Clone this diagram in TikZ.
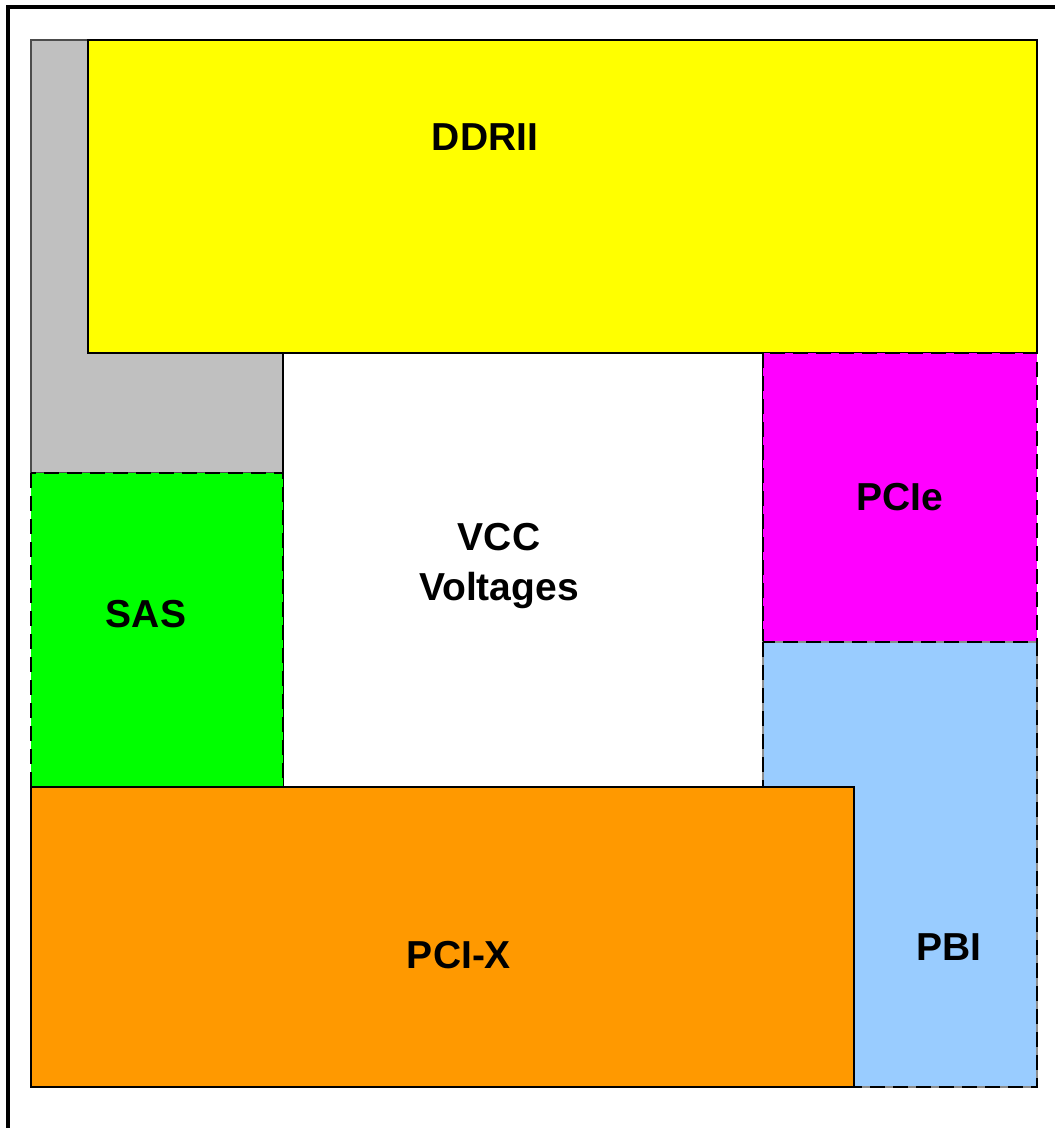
\documentclass[tikz,border=0pt]{standalone}
\usepackage{fontspec}
\setmainfont{Liberation Sans}
\definecolor{cgray}{HTML}{C0C0C0}
\definecolor{cyel}{HTML}{FFFF00}
\definecolor{cgreen}{HTML}{00FF00}
\definecolor{cmag}{HTML}{FF00FF}
\definecolor{cblue}{HTML}{99CCFF}
\definecolor{corange}{HTML}{FF9900}
\begin{document}
\begin{tikzpicture}[x=1pt,y=-1pt,
  solidbox/.style={draw=black,line width=2.2pt},
  dashbox/.style={draw=black,line width=2.6pt,dash pattern=on 15pt off 8pt},
  lbl/.style={font=\fontsize{39}{50}\selectfont\bfseries,align=center,inner sep=0pt}]
\useasboundingbox (0,0) rectangle (1055,1128);
\fill[white] (0,0) rectangle (1055,1128);
\begin{scope}
\clip (0,0) rectangle (1055,1128);
\draw[line width=3.2pt] (8,7) rectangle (1070,1140);
\end{scope}
% gray L region
\filldraw[fill=cgray,draw=black!70,line width=1.8pt] (31,40) rectangle (283,473);
% yellow
\filldraw[fill=cyel,solidbox] (88,40) rectangle (1037,353);
% white VCC
\draw[solidbox] (283,353) -- (283,787);
\draw[solidbox] (763,353) -- (763,787);
% green SAS
\fill[cgreen] (31,473) rectangle (283,787);
\draw[dashbox] (31,473) rectangle (283,787);
% magenta PCIe
\fill[cmag] (763,353) rectangle (1037,642);
\draw[dashbox] (763,353) rectangle (1037,642);
% blue PBI
\fill[cblue] (763,642) rectangle (1037,1087);
\draw[draw=black!45,line width=1.5pt] (763,642) rectangle (1037,1087);
\draw[dashbox] (763,642) rectangle (1037,1087);
% orange PCI-X
\filldraw[fill=corange,solidbox] (31,787) rectangle (854,1087);
% labels
\node[lbl] (ddr) at (485,137) {DDRII};
\node[lbl] (pcie) at (900,497) {PCIe};
\node[lbl] (vcc) at (499,566) {VCC\\Voltages};
\node[lbl] (sas) at (146,614) {SAS};
\node[lbl] (pcix) at (459,955) {PCI-X};
\node[lbl] (pbi) at (949,947) {PBI};
\end{tikzpicture}
\end{document}
